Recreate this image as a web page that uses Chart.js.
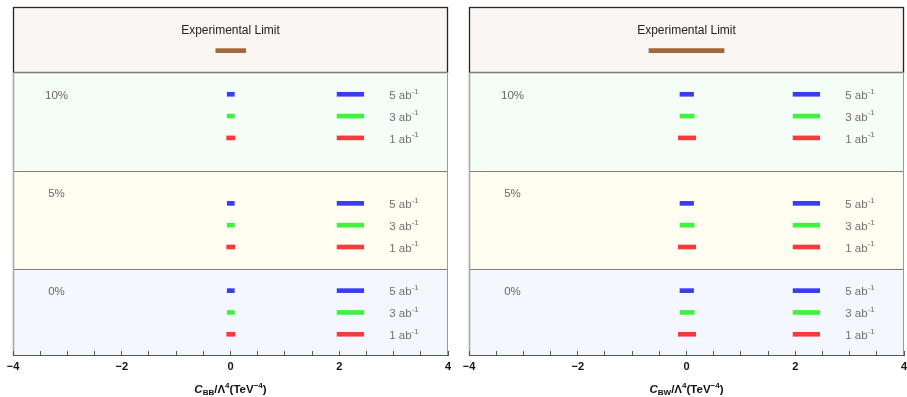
<!DOCTYPE html>
<html>
<head>
<meta charset="utf-8">
<script src="https://cdn.jsdelivr.net/npm/chart.js@4/dist/chart.umd.min.js"></script>
<style>
  html, body { margin: 0; padding: 0; background: #fff; overflow: hidden; width: 907px; height: 397px; }
  canvas { position: absolute; top: 0; }
  #cbb { left: 0; width: 454px; height: 397px; }
  #cbw { left: 454px; width: 463px; height: 397px; }
</style>
</head>
<body>
<canvas id="cbb" width="454" height="397"></canvas>
<canvas id="cbw" width="463" height="397"></canvas>
<script>
// Systematic-uncertainty scenarios (top to bottom) and integrated luminosities
const scenarios = ['10%', '5%', '0%'];
const lumiValues = ['5', '3', '1'];            // ab^-1
const scenarioRows = [[12, 11, 10], [7, 6, 5], [3, 2, 1]];
const scenarioLabelY = [12, 7.5, 3];
const bandRanges = [[8.5, 13], [4, 8.5], [0, 4]];
const headerRange = [13, 16];
const limitRow = 14;
const limitTextRow = 15;

// Current experimental limits on the coefficients (TeV^-4)
const cbbLimit = [-0.27, 0.28];
const cbwLimit = [-0.69, 0.69];

// Projected 95% CL intervals, per luminosity [5, 3, 1 ab^-1]
const cbb10 = [[-0.06, 0.07], [-0.06, 0.07], [-0.07, 0.08]];
const cbb5  = [[-0.06, 0.07], [-0.06, 0.07], [-0.07, 0.08]];
const cbb0  = [[-0.06, 0.07], [-0.06, 0.07], [-0.07, 0.08]];
const cbw10 = [[-0.12, 0.13], [-0.12, 0.14], [-0.15, 0.17]];
const cbw5  = [[-0.12, 0.13], [-0.12, 0.14], [-0.15, 0.17]];
const cbw0  = [[-0.12, 0.13], [-0.12, 0.14], [-0.15, 0.17]];

// Key swatches and their labels
const keyRange = [1.96, 2.45];
const keyLabelX = 2.92;
const scenarioLabelX = -3.2;

const FONT = '"Liberation Sans", Arial, Helvetica, sans-serif';
const lumiColors = ['#3b3bf4', '#3cf43c', '#f43c3c'];
const limitColor = '#a2683a';
const bandFills = ['#f5fdf7', '#fffef1', '#f4f8fe'];
const headerFill = '#faf6f3';

function drawRich(ctx, parts, x, y, align, size, color, weight) {
  const fontOf = p => `${p.italic ? 'italic ' : ''}${weight} ${p.style ? size * 0.7 : size}px ${FONT}`;
  let total = 0;
  parts.forEach(p => { ctx.font = fontOf(p); p.w = ctx.measureText(p.t).width; total += p.w; });
  let cx = align === 'center' ? x - total / 2 : x;
  ctx.fillStyle = color;
  ctx.textAlign = 'left';
  ctx.textBaseline = 'middle';
  parts.forEach(p => {
    ctx.font = fontOf(p);
    const dy = p.style === 'sub' ? size * 0.27 : p.style === 'sup' ? -size * 0.38 : 0;
    ctx.fillText(p.t, cx, y + dy);
    cx += p.w;
  });
}

const panelDecor = {
  id: 'panelDecor',
  beforeDraw(chart) {
    const { ctx, chartArea: a, scales: { y } } = chart;
    const w = a.right - a.left;
    ctx.save();
    bandRanges.forEach((r, i) => {
      const top = y.getPixelForValue(r[1]);
      const bot = Math.min(a.bottom, y.getPixelForValue(r[0]));
      ctx.fillStyle = bandFills[i];
      ctx.fillRect(a.left, top, w, bot - top);
    });
    const hTop = y.getPixelForValue(headerRange[1]);
    const hBot = y.getPixelForValue(headerRange[0]);
    ctx.fillStyle = headerFill;
    ctx.fillRect(a.left, hTop, w, hBot - hTop);
    // header frame
    ctx.strokeStyle = '#262626';
    ctx.lineWidth = 1.3;
    ctx.strokeRect(a.left + 0.5, Math.round(hTop) + 0.5, w - 1, Math.round(hBot) - Math.round(hTop));
    // band separators
    ctx.strokeStyle = '#7d7d7d';
    ctx.lineWidth = 1.2;
    [bandRanges[0][1], bandRanges[0][0], bandRanges[1][0]].forEach(v => {
      const py = Math.round(y.getPixelForValue(v)) + 0.5;
      ctx.beginPath(); ctx.moveTo(a.left, py); ctx.lineTo(a.right, py); ctx.stroke();
    });
    // side frame below the header
    ctx.strokeStyle = '#a8a8a8';
    ctx.lineWidth = 1.6;
    ctx.beginPath(); ctx.moveTo(a.left + 0.5, hBot); ctx.lineTo(a.left + 0.5, a.bottom); ctx.stroke();
    ctx.strokeStyle = '#9a9a9a';
    ctx.lineWidth = 1;
    ctx.beginPath(); ctx.moveTo(a.right - 0.5, hBot); ctx.lineTo(a.right - 0.5, a.bottom); ctx.stroke();
    ctx.restore();
  },
  afterDatasetsDraw(chart, args, opts) {
    const { ctx, scales: { x, y } } = chart;
    ctx.save();
    ctx.textAlign = 'center';
    ctx.textBaseline = 'middle';
    ctx.fillStyle = '#222';
    ctx.font = `12px ${FONT}`;
    ctx.fillText('Experimental Limit', x.getPixelForValue(0), y.getPixelForValue(limitTextRow) + 1.5);
    ctx.fillStyle = '#666';
    ctx.font = `11.5px ${FONT}`;
    scenarios.forEach((s, i) => {
      ctx.fillText(s, x.getPixelForValue(scenarioLabelX), y.getPixelForValue(scenarioLabelY[i]) + 1.5);
    });
    scenarioRows.forEach(rows => rows.forEach((r, j) => {
      drawRich(ctx, [{ t: lumiValues[j] + ' ab' }, { t: '-1', style: 'sup' }],
        x.getPixelForValue(keyLabelX), y.getPixelForValue(r) + 1.5, 'left', 11.5, '#707070', 'normal');
    }));
    // axis title
    drawRich(ctx, [
      { t: 'C', italic: true }, { t: opts.sub, style: 'sub' }, { t: '/Λ' }, { t: '4', style: 'sup' },
      { t: '(TeV' }, { t: '−4', style: 'sup' }, { t: ')' }
    ], (x.left + x.right) / 2, chart.height - 7, 'center', 11.5, '#111', 'bold');
    ctx.restore();
  }
};

function buildDatasets(limit, bounds) {
  const common = { barThickness: 4, borderWidth: 0, borderSkipped: false, grouped: false };
  const ds = [Object.assign({ label: 'Experimental Limit', data: [{ x: limit, y: limitRow }], backgroundColor: limitColor }, common)];
  lumiValues.forEach((l, j) => {
    ds.push(Object.assign({
      label: l + ' ab⁻¹',
      data: scenarios.map((s, i) => ({ x: bounds[i][j], y: scenarioRows[i][j] })),
      backgroundColor: lumiColors[j]
    }, common));
    ds.push(Object.assign({
      label: l + ' ab⁻¹ key',
      data: scenarios.map((s, i) => ({ x: keyRange, y: scenarioRows[i][j] })),
      backgroundColor: lumiColors[j]
    }, common));
  });
  return ds;
}

function makePanel(id, limit, bounds, sub, padLeft, padRight) {
  return new Chart(document.getElementById(id), {
    type: 'bar',
    data: { datasets: buildDatasets(limit, bounds) },
    options: {
      indexAxis: 'y',
      responsive: false,
      animation: false,
      devicePixelRatio: 1,
      layout: { padding: { left: padLeft, right: padRight, top: 7, bottom: 0 } },
      plugins: {
        legend: { display: false },
        tooltip: { enabled: false },
        panelDecor: { sub }
      },
      scales: {
        x: {
          type: 'linear', min: -4, max: 4, position: 'bottom',
          ticks: {
            stepSize: 0.5, autoSkip: false, maxRotation: 0, padding: 9, color: '#111',
            font: { family: FONT, size: 11, weight: 'bold' },
            callback: v => (v % 2 === 0 ? (v < 0 ? '−' + Math.abs(v) : String(v)) : '')
          },
          grid: { drawOnChartArea: false, drawTicks: true, tickLength: -4, color: '#555', tickColor: '#555', lineWidth: 1 },
          border: { display: true, color: '#555', width: 1 },
          title: { display: false },
          afterFit: s => { s.height = 42; s.paddingLeft = 0; s.paddingRight = 0; }
        },
        y: { type: 'linear', min: 0.05, max: 16, display: false, offset: false }
      }
    },
    plugins: [panelDecor]
  });
}

makePanel('cbb', cbbLimit, [cbb10, cbb5, cbb0], 'BB', 13, 6);
makePanel('cbw', cbwLimit, [cbw10, cbw5, cbw0], 'BW', 15, 13);
</script>
</body>
</html>
